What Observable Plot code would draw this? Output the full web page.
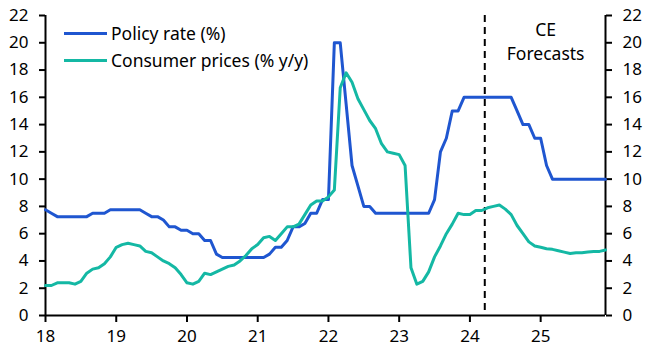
<!DOCTYPE html>
<html><head><meta charset="utf-8">
<script src="https://cdn.jsdelivr.net/npm/d3@7"></script>
<script src="https://cdn.jsdelivr.net/npm/@observablehq/plot@0.6"></script>
<style>
body{margin:0;background:#fff;font-family:"Noto Sans",sans-serif;}
#wrap{position:relative;width:650px;height:355px;}
.item{position:absolute;left:64px;display:flex;align-items:center;font-size:17.5px;color:#000;white-space:nowrap;height:24px;}
.swatch{width:43px;height:3px;margin-right:4px;}
</style></head><body><div id="wrap"></div>
<script>
const startYear = 2018;
const seriesNames = ["Policy rate (%)", "Consumer prices (% y/y)"];
const seriesColors = ["#1f56d0", "#14b8a4"];
// monthly, Jan 2018 - Dec 2025
const policyRate = [
 7.75,7.5,7.25,7.25,7.25,7.25,7.25,7.25,7.5,7.5,7.5,7.75,
 7.75,7.75,7.75,7.75,7.75,7.5,7.25,7.25,7.0,6.5,6.5,6.25,
 6.25,6.0,6.0,5.5,5.5,4.5,4.25,4.25,4.25,4.25,4.25,4.25,
 4.25,4.25,4.5,5.0,5.0,5.5,6.5,6.5,6.75,7.5,7.5,8.5,
 8.5,20,20,15.5,11,9.5,8,8,7.5,7.5,7.5,7.5,
 7.5,7.5,7.5,7.5,7.5,7.5,8.5,12,13,15,15,16,
 16,16,16,16,16,16,16,16,15,14,14,13,
 13,11,10,10,10,10,10,10,10,10,10,10
];
const consumerPrices = [
 2.2,2.2,2.4,2.4,2.4,2.3,2.5,3.1,3.4,3.5,3.8,4.3,
 5.0,5.2,5.3,5.2,5.1,4.7,4.6,4.3,4.0,3.8,3.5,3.0,
 2.4,2.3,2.5,3.1,3.0,3.2,3.4,3.6,3.7,4.0,4.4,4.9,
 5.2,5.7,5.8,5.5,6.0,6.5,6.5,6.7,7.4,8.1,8.4,8.4,
 8.7,9.2,16.7,17.8,17.1,15.9,15.1,14.3,13.7,12.6,12.0,11.9,
 11.8,11.0,3.5,2.3,2.5,3.2,4.3,5.1,6.0,6.7,7.5,7.4,
 7.4,7.7,7.7,7.9,8.0,8.1,7.8,7.4,6.6,6.0,5.4,5.1,
 5.0,4.9,4.85,4.75,4.65,4.55,4.6,4.6,4.65,4.7,4.7,4.8
];
const yearTicks = [2018,2019,2020,2021,2022,2023,2024,2025];
const valueTicks = [0,2,4,6,8,10,12,14,16,18,20,22];
const forecastStart = 2024.21;
const forecastLabel = "CE\nForecasts";
const forecastLabelX = 2025.07;

const xEnd = startYear + (policyRate.length - 1) / 12;
const rows = [
  ...policyRate.map((v, i) => ({date: startYear + i / 12, value: v, series: seriesNames[0]})),
  ...consumerPrices.map((v, i) => ({date: startYear + i / 12, value: v, series: seriesNames[1]}))
];

const axisCommon = {ticks: valueTicks, tickSize: 6, tickPadding: 11, strokeWidth: 2, label: null, fontSize: 17};
const chart = Plot.plot({
  width: 650, height: 355,
  marginLeft: 45, marginRight: 45, marginTop: 15, marginBottom: 40,
  style: {fontFamily: "Noto Sans", fontSize: "17px", color: "#000", background: "#fff"},
  x: {domain: [startYear, xEnd]},
  y: {domain: [0, 22]},
  color: {domain: seriesNames, range: seriesColors},
  marks: [
    Plot.axisX({ticks: yearTicks, tickFormat: d => String(d).slice(2), tickSize: 7, tickPadding: 7, strokeWidth: 2, label: null, fontSize: 17}),
    Plot.axisY({anchor: "left", ...axisCommon}),
    Plot.axisY({anchor: "right", ...axisCommon}),
    Plot.ruleX([startYear, xEnd], {stroke: "#000", strokeWidth: 2}),
    Plot.ruleY([0], {stroke: "#000", strokeWidth: 2}),
    Plot.ruleX([forecastStart], {stroke: "#000", strokeWidth: 2, strokeDasharray: "7,5"}),
    Plot.line(rows, {x: "date", y: "value", z: "series", stroke: "series", strokeWidth: 3, strokeLinejoin: "round"}),
    Plot.text([forecastLabel], {x: () => forecastLabelX, text: d => d, frameAnchor: "top", lineAnchor: "top", dy: 3, lineHeight: 1.4, fontSize: 17.5, fill: "#000"})
  ]
});
const wrap = document.getElementById("wrap");
wrap.appendChild(chart);
seriesNames.forEach((name, i) => {
  const item = document.createElement("div");
  item.className = "item";
  item.style.top = (21 + i * 27) + "px";
  const sw = document.createElement("div");
  sw.className = "swatch";
  sw.style.background = seriesColors[i];
  item.appendChild(sw);
  item.appendChild(document.createTextNode(name));
  wrap.appendChild(item);
});
</script></body></html>
